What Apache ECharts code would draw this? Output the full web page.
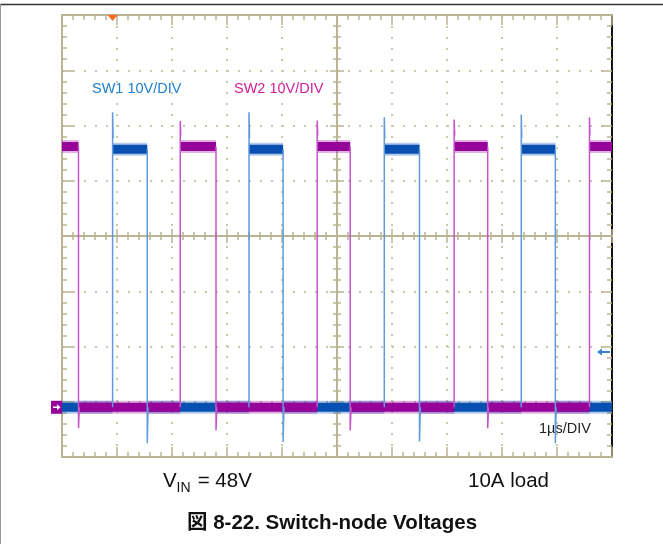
<!DOCTYPE html>
<html>
<head>
<meta charset="utf-8">
<script src="https://cdn.jsdelivr.net/npm/echarts@6/dist/echarts.min.js"></script>
<style>
  html, body { margin: 0; padding: 0; background: #fff; }
  #main { width: 663px; height: 544px; }
</style>
</head>
<body>
<div id="main"></div>
<script>
// time axis: 1µs/DIV, 10 divisions
const timeMinUs = 0;
const timeMaxUs = 10;
// voltage axis: 10V/DIV, 8 divisions, ground marker 0.9 div above bottom
const voltMin = -9;
const voltMax = 71;

// SW1 (blue) switching edges, µs
const sw1RiseUs = [0.92, 3.40, 5.86, 8.35];
const sw1FallUs = [1.55, 4.02, 6.50, 8.97];
const sw1HighV = 46.7;
const sw1RiseSpikeV = [53.4, 53.4, 52.5, 53.0];
const sw1FallDipV = [-6.5, -6.3, -6.2, -6.5];

// SW2 (purple) switching edges, µs
const sw2FallUs = [0.30, 2.80, 5.24, 7.74];
const sw2RiseUs = [2.15, 4.64, 7.13, 9.59];
const sw2HighV = 47.2;
const sw2RiseSpikeV = [51.8, 51.9, 52.1, 52.5];
const sw2FallDipV = [-3.8, -4.2, -4.2, -3.8];

const triggerLevelV = 10;

const tan = '#b9b594';
const blueDark = '#0750b2';
const blueEdge = '#5e9adc';
const purpleDark = '#96049a';
const purpleEdge = '#c454c8';

// flat levels of a trace, broken at every edge
function bandData(startHigh, rises, falls, high) {
  const edges = rises.map(t => [t, 1]).concat(falls.map(t => [t, 0])).sort((a, b) => a[0] - b[0]);
  let lvl = startHigh ? high : 0;
  let t0 = timeMinUs;
  const out = [];
  edges.forEach(([t, up]) => {
    out.push([t0, lvl], [t, lvl], [t, '-']);
    lvl = up ? high : 0;
    t0 = t;
  });
  out.push([t0, lvl], [timeMaxUs, lvl]);
  return out;
}

// thin transitions (with overshoot / undershoot)
function edgeData(rises, falls, high, spikes, dips) {
  const out = [];
  rises.forEach((t, i) => {
    out.push([t, 0], [t, spikes[i]], [t + 0.01, high + 2], [t + 0.01, '-']);
  });
  falls.forEach((t, i) => {
    out.push([t, high], [t, dips[i]], [t + 0.015, 0], [t + 0.015, '-']);
  });
  return out;
}

const dotted = { show: true, lineStyle: { color: '#cbc8b0', width: 2, type: [2, 9] } };

function frameX(pos, extra) {
  return Object.assign({
    type: 'value', min: timeMinUs, max: timeMaxUs, interval: 1, position: pos,
    axisLine: { show: true, onZero: false, lineStyle: { color: tan, width: 2 } },
    axisTick: { show: true, inside: true, length: 10, lineStyle: { color: tan, width: 1.5 } },
    minorTick: { show: true, splitNumber: 5, length: 5, lineStyle: { color: tan, width: 1.5 } },
    axisLabel: { show: false },
    splitLine: { show: false }
  }, extra || {});
}
function frameY(pos, extra) {
  return Object.assign({
    type: 'value', min: 0, max: 8, interval: 1, position: pos,
    axisLine: { show: true, onZero: false, lineStyle: { color: tan, width: 2 } },
    axisTick: { show: true, inside: true, length: 11, lineStyle: { color: tan, width: 1.5 } },
    minorTick: { show: true, splitNumber: 5, length: 5, lineStyle: { color: tan, width: 1.5 } },
    axisLabel: { show: false },
    splitLine: { show: false }
  }, extra || {});
}
const centerTick = (inside) => ({
  offset: 0,
  axisTick: { show: true, inside: inside, length: 7, lineStyle: { color: tan, width: 1.5 } },
  minorTick: { show: true, splitNumber: 5, length: 4, lineStyle: { color: tan, width: 1.5 } }
});

const chart = echarts.init(document.getElementById('main'));

const option = {
  animation: false,
  backgroundColor: '#fff',
  grid: { left: 62, top: 15, width: 550, height: 442 },
  xAxis: [
    frameX('bottom', { splitLine: dotted }),
    frameX('top'),
    frameX('bottom', Object.assign(centerTick(true), { offset: -221 })),
    frameX('bottom', Object.assign(centerTick(false), { offset: -221 }))
  ],
  yAxis: [
    frameY('left', { splitLine: dotted }),
    frameY('right', { axisLine: { show: true, onZero: false, lineStyle: { color: '#111', width: 2 } } }),
    frameY('left', Object.assign(centerTick(true), { offset: -275 })),
    frameY('left', Object.assign(centerTick(false), { offset: -275 })),
    { type: 'value', min: voltMin, max: voltMax, show: false }
  ],
  series: [
    { name: 'SW1 halo', type: 'line', xAxisIndex: 0, yAxisIndex: 4, showSymbol: false, z: 2,
      data: bandData(false, sw1RiseUs, sw1FallUs, sw1HighV),
      lineStyle: { color: blueDark, width: 13, opacity: 0.3 } },
    { name: 'SW1', type: 'line', xAxisIndex: 0, yAxisIndex: 4, showSymbol: false, z: 3,
      data: bandData(false, sw1RiseUs, sw1FallUs, sw1HighV),
      lineStyle: { color: blueDark, width: 9 } },
    { name: 'SW2 halo', type: 'line', xAxisIndex: 0, yAxisIndex: 4, showSymbol: false, z: 4,
      data: bandData(true, sw2RiseUs, sw2FallUs, sw2HighV),
      lineStyle: { color: purpleDark, width: 13, opacity: 0.3 } },
    { name: 'SW2', type: 'line', xAxisIndex: 0, yAxisIndex: 4, showSymbol: false, z: 5,
      data: bandData(true, sw2RiseUs, sw2FallUs, sw2HighV),
      lineStyle: { color: purpleDark, width: 9 } },
    { name: 'SW2 edges', type: 'line', xAxisIndex: 0, yAxisIndex: 4, showSymbol: false, z: 6,
      data: edgeData(sw2RiseUs, sw2FallUs, sw2HighV, sw2RiseSpikeV, sw2FallDipV),
      lineStyle: { color: purpleEdge, width: 1.5 } },
    { name: 'SW1 edges', type: 'line', xAxisIndex: 0, yAxisIndex: 4, showSymbol: false, z: 7,
      data: edgeData(sw1RiseUs, sw1FallUs, sw1HighV, sw1RiseSpikeV, sw1FallDipV),
      lineStyle: { color: blueEdge, width: 1.5 } }
  ]
};
chart.setOption(option);

// markers placed from the scales
const trig = chart.convertToPixel({ xAxisIndex: 0, yAxisIndex: 4 }, [sw1RiseUs[0], voltMax]);
const gnd = chart.convertToPixel({ xAxisIndex: 0, yAxisIndex: 4 }, [timeMinUs, 0]);
const lvl = chart.convertToPixel({ xAxisIndex: 0, yAxisIndex: 4 }, [timeMaxUs, triggerLevelV]);

const txt = (x, y, text, font, fill, align) => ({
  type: 'text', x: x, y: y, silent: true,
  style: { text: text, font: font, fill: fill, textAlign: align || 'left', textVerticalAlign: 'middle' }
});

chart.setOption({
  graphic: [
    { type: 'line', shape: { x1: 0, y1: 4.5, x2: 663, y2: 4.5 }, style: { stroke: '#333', lineWidth: 1.5 } },
    { type: 'line', shape: { x1: 0.5, y1: 4, x2: 0.5, y2: 544 }, style: { stroke: '#999', lineWidth: 1 } },
    { type: 'polygon', z: 100, shape: { points: [[trig[0] - 5, trig[1]], [trig[0] + 5, trig[1]], [trig[0], trig[1] + 6]] }, style: { fill: '#ff6a1a' } },
    { type: 'rect', z: 100, shape: { x: gnd[0] - 11, y: gnd[1] - 6.5, width: 11, height: 13 }, style: { fill: purpleDark } },
    { type: 'polygon', z: 101, shape: { points: [[gnd[0] - 9, gnd[1] - 0.7], [gnd[0] - 5, gnd[1] - 0.7], [gnd[0] - 5, gnd[1] - 3], [gnd[0] - 1.5, gnd[1]], [gnd[0] - 5, gnd[1] + 3], [gnd[0] - 5, gnd[1] + 0.7], [gnd[0] - 9, gnd[1] + 0.7]] }, style: { fill: '#fff' } },
    { type: 'polygon', z: 100, shape: { points: [[lvl[0] - 15, lvl[1]], [lvl[0] - 10, lvl[1] - 3.5], [lvl[0] - 10, lvl[1] - 1], [lvl[0] - 2, lvl[1] - 1], [lvl[0] - 2, lvl[1] + 1], [lvl[0] - 10, lvl[1] + 1], [lvl[0] - 10, lvl[1] + 3.5]] }, style: { fill: '#3a7fd4' } },
    txt(92, 89, 'SW1 10V/DIV', '14.5px "Liberation Sans", Arial, sans-serif', '#1f7fd0'),
    txt(234, 89, 'SW2 10V/DIV', '14.5px "Liberation Sans", Arial, sans-serif', '#d2209c'),
    txt(539, 429, '1µs/DIV', '14.5px "Liberation Sans", Arial, sans-serif', '#222'),
    txt(163, 481, 'V', '20.5px "Liberation Sans", Arial, sans-serif', '#111'),
    txt(176.5, 488, 'IN', '14px "Liberation Sans", Arial, sans-serif', '#111'),
    txt(192, 481, ' = 48V', '20.5px "Liberation Sans", Arial, sans-serif', '#111'),
    txt(468, 481, '10A load', '20.5px "Liberation Sans", Arial, sans-serif', '#111'),
    txt(332, 523, '図 8-22. Switch-node Voltages', 'bold 20.5px "Liberation Sans", "Noto Sans CJK JP", Arial, sans-serif', '#111', 'center')
  ]
});
</script>
</body>
</html>
